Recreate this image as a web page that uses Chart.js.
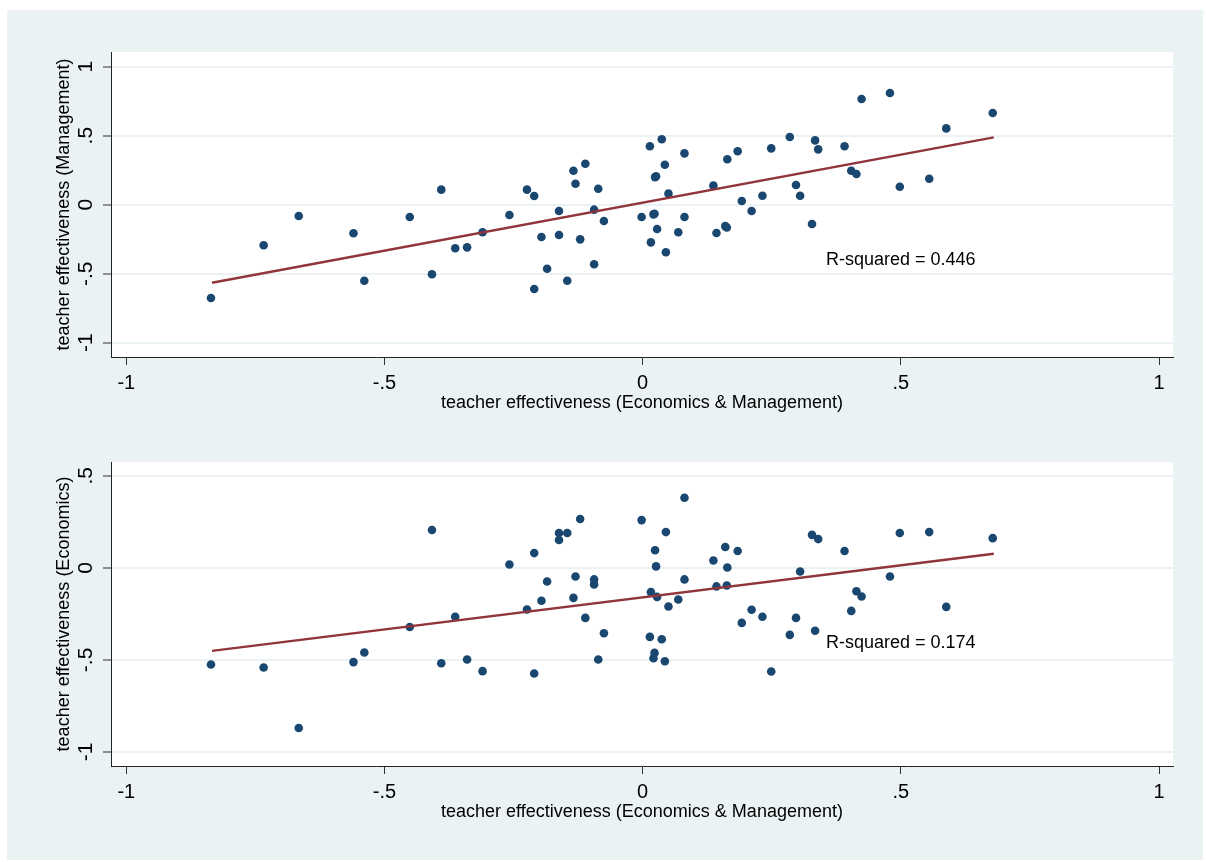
<!DOCTYPE html>
<html>
<head>
<meta charset="utf-8">
<script src="https://cdn.jsdelivr.net/npm/chart.js@4.4.1/dist/chart.umd.min.js"></script>
<style>
  body { margin: 0; background: #fff; }
  #wrap { position: absolute; left: 7px; top: 10px; width: 1196px; height: 850px; background: #eaf2f3; }
  canvas { position: absolute; left: 0; }
</style>
</head>
<body>
<div id="wrap">
  <canvas id="mgmtChart" width="1196" height="420" style="top:0"></canvas>
  <canvas id="econChart" width="1196" height="430" style="top:420px"></canvas>
</div>
<script>
// teacher effectiveness (Economics & Management), shared x of both panels
const xEconMgmt = [
  -0.836, -0.734, -0.666, -0.560, -0.539, -0.451, -0.408, -0.390, -0.363, -0.340,
  -0.310, -0.258, -0.224, -0.210, -0.210, -0.196, -0.185, -0.162, -0.162, -0.146,
  -0.134, -0.130, -0.121, -0.111, -0.094, -0.094, -0.086, -0.075, -0.002, 0.014,
  0.016, 0.021, 0.023, 0.024, 0.026, 0.028, 0.037, 0.043, 0.045, 0.050,
  0.069, 0.081, 0.081, 0.137, 0.143, 0.160, 0.163, 0.164, 0.184, 0.192,
  0.211, 0.232, 0.249, 0.285, 0.297, 0.305, 0.328, 0.334, 0.340, 0.391,
  0.404, 0.414, 0.424, 0.479, 0.498, 0.555, 0.588, 0.678
];
// teacher effectiveness (Management)
const yMgmt = [
  -0.676, -0.294, -0.082, -0.207, -0.551, -0.089, -0.504, 0.109, -0.316, -0.309,
  -0.200, -0.075, 0.109, 0.063, -0.611, -0.234, -0.464, -0.046, -0.220, -0.551,
  0.246, 0.152, -0.251, 0.297, -0.036, -0.432, 0.116, -0.118, -0.089, 0.423,
  -0.273, -0.070, -0.066, 0.200, 0.206, -0.176, 0.474, 0.290, -0.345, 0.080,
  -0.200, 0.372, -0.089, 0.138, -0.205, -0.155, -0.165, 0.329, 0.387, 0.027,
  -0.046, 0.065, 0.408, 0.491, 0.143, 0.065, -0.140, 0.466, 0.401, 0.423,
  0.246, 0.222, 0.766, 0.809, 0.130, 0.188, 0.553, 0.664
];
// teacher effectiveness (Economics)
const yEcon = [
  -0.525, -0.541, -0.870, -0.512, -0.460, -0.321, 0.205, -0.518, -0.266, -0.498,
  -0.561, 0.018, -0.226, 0.080, -0.574, -0.179, -0.074, 0.189, 0.151, 0.189,
  -0.163, -0.047, 0.265, -0.272, -0.063, -0.090, -0.498, -0.355, 0.259, -0.375,
  -0.132, -0.491, -0.462, 0.095, 0.008, -0.158, -0.388, -0.507, 0.194, -0.210,
  -0.172, 0.380, -0.063, 0.040, -0.101, 0.113, -0.096, 0.002, 0.091, -0.299,
  -0.228, -0.266, -0.563, -0.364, -0.272, -0.020, 0.179, -0.342, 0.156, 0.091,
  -0.234, -0.127, -0.156, -0.047, 0.189, 0.194, -0.212, 0.161
];

// fitted lines, end points
const fitX = [-0.834, 0.680];
const fitMgmt = [-0.565, 0.488];
const fitEcon = [-0.451, 0.076];

const xTicks = [-1, -0.5, 0, 0.5, 1];
const xTickLabels = ['-1', '-.5', '0', '.5', '1'];
const yTicksMgmt = [-1, -0.5, 0, 0.5, 1];
const yTickLabelsMgmt = ['-1', '-.5', '0', '.5', '1'];
const yTicksEcon = [-1, -0.5, 0, 0.5];
const yTickLabelsEcon = ['-1', '-.5', '0', '.5'];

const xTitle = 'teacher effectiveness (Economics & Management)';
const rsqMgmt = 'R-squared = 0.446';
const rsqEcon = 'R-squared = 0.174';

const FONT = '"Liberation Sans", Arial, sans-serif';
Chart.defaults.font.family = FONT;
Chart.defaults.color = '#000';

// white plot region, vertical y tick labels, R-squared note
const stataLook = {
  id: 'stataLook',
  beforeDraw(chart) {
    const { ctx, chartArea: a } = chart;
    ctx.save();
    ctx.fillStyle = '#fff';
    ctx.fillRect(a.left, a.top, a.right - a.left, a.bottom - a.top);
    ctx.restore();
  },
  afterDraw(chart, args, opts) {
    const ctx = chart.ctx;
    const x = chart.scales.x, y = chart.scales.y;
    ctx.save();
    ctx.fillStyle = '#000';
    ctx.font = '21px ' + FONT;
    ctx.textAlign = 'center';
    ctx.textBaseline = 'middle';
    y.ticks.forEach((t, i) => {
      ctx.save();
      ctx.translate(y.right - 24.5, y.getPixelForValue(t.value));
      ctx.rotate(-Math.PI / 2);
      ctx.fillText(opts.yLabels[i], 0, 0);
      ctx.restore();
    });
    ctx.font = '18px ' + FONT;
    ctx.textAlign = 'left';
    ctx.fillText(opts.note, x.getPixelForValue(opts.notePos[0]), y.getPixelForValue(opts.notePos[1]));
    ctx.restore();
  }
};

function makeChart(id, yVals, fitY, yMin, yMax, yTicks, yLabels, yTitle, note, notePos, pad) {
  const ctx = document.getElementById(id).getContext('2d');
  return new Chart(ctx, {
    type: 'scatter',
    data: {
      datasets: [{
        data: fitX.map((v, i) => ({ x: v, y: fitY[i] })),
        showLine: true,
        borderColor: '#90353b',
        borderWidth: 2.5,
        pointRadius: 0,
        order: 0
      }, {
        data: xEconMgmt.map((v, i) => ({ x: v, y: yVals[i] })),
        pointRadius: 4.3,
        pointBorderWidth: 0,
        pointBackgroundColor: '#1a476f',
        order: 1
      }]
    },
    options: {
      responsive: false,
      animation: false,
      layout: { padding: pad },
      scales: {
        x: {
          type: 'linear',
          min: -1.0296,
          max: 1.0271,
          afterBuildTicks: s => { s.ticks = xTicks.map(v => ({ value: v })); },
          afterFit: s => { s.height = 57; },
          ticks: {
            font: { size: 20, lineHeight: 1.2 },
            padding: 6,
            color: '#000',
            callback: (v, i) => xTickLabels[i]
          },
          grid: { drawOnChartArea: false, drawTicks: true, tickLength: 8, tickColor: '#333', tickWidth: 1 },
          border: { display: true, color: '#222', width: 1 },
          title: { display: true, text: xTitle, font: { size: 18, lineHeight: 1.2 }, color: '#000', padding: { top: 0, bottom: 0 } }
        },
        y: {
          type: 'linear',
          min: yMin,
          max: yMax,
          afterBuildTicks: s => { s.ticks = yTicks.map(v => ({ value: v })); },
          afterFit: s => { s.width = 104; },
          ticks: { display: false },
          grid: { color: '#eaf2f3', lineWidth: 2, drawTicks: true, tickLength: 8, tickColor: '#333', tickWidth: 1 },
          border: { display: true, color: '#222', width: 1 },
          title: { display: true, text: yTitle, font: { size: 18, lineHeight: 1.2 }, color: '#000', padding: { top: 46, bottom: 0 } }
        }
      },
      plugins: {
        legend: { display: false },
        tooltip: { enabled: false },
        stataLook: { yLabels: yLabels, note: note, notePos: notePos }
      }
    },
    plugins: [stataLook]
  });
}

makeChart('mgmtChart', yMgmt, fitMgmt, -1.1036, 1.1065, yTicksMgmt, yTickLabelsMgmt,
  'teacher effectiveness (Management)', rsqMgmt, [0.355, -0.40],
  { top: 42, right: 30, bottom: 16, left: 0 });

makeChart('econChart', yEcon, fitEcon, -1.076, 0.5745, yTicksEcon, yTickLabelsEcon,
  'teacher effectiveness (Economics)', rsqEcon, [0.355, -0.41],
  { top: 32, right: 30, bottom: 37, left: 0 });
</script>
</body>
</html>
